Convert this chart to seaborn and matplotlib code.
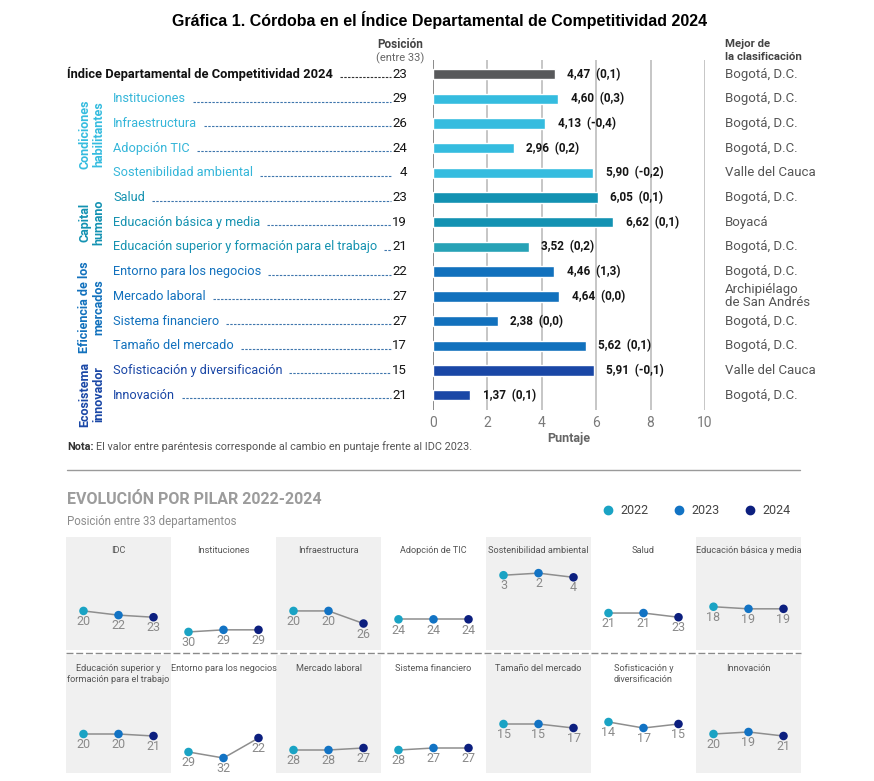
import numpy as np
import pandas as pd
import matplotlib
matplotlib.use("Agg")
import matplotlib.pyplot as plt
import matplotlib.transforms as mtransforms
from matplotlib.lines import Line2D
import seaborn as sns

# ---- data: top chart ----
pilares = ["Índice Departamental de Competitividad 2024", "Instituciones", "Infraestructura",
           "Adopción TIC", "Sostenibilidad ambiental", "Salud", "Educación básica y media",
           "Educación superior y formación para el trabajo", "Entorno para los negocios",
           "Mercado laboral", "Sistema financiero", "Tamaño del mercado",
           "Sofisticación y diversificación", "Innovación"]
grupos = ["IDC"] + ["Condiciones habilitantes"] * 4 + ["Capital humano"] * 3 + \
         ["Eficiencia de los mercados"] * 4 + ["Ecosistema innovador"] * 2
puntaje = [4.47, 4.60, 4.13, 2.96, 5.90, 6.05, 6.62, 3.52, 4.46, 4.64, 2.38, 5.62, 5.91, 1.37]
cambio = ["0,1", "0,3", "-0,4", "0,2", "-0,2", "0,1", "0,1", "0,2", "1,3", "0,0", "0,0", "0,1", "-0,1", "0,1"]
posicion = [23, 29, 26, 24, 4, 23, 19, 21, 22, 27, 27, 17, 15, 21]
mejor = ["Bogotá, D.C.", "Bogotá, D.C.", "Bogotá, D.C.", "Bogotá, D.C.", "Valle del Cauca",
         "Bogotá, D.C.", "Boyacá", "Bogotá, D.C.", "Bogotá, D.C.", "Archipiélago\nde San Andrés",
         "Bogotá, D.C.", "Bogotá, D.C.", "Valle del Cauca", "Bogotá, D.C."]

# ---- data: evolution panels ----
evo_titulos = ["IDC", "Instituciones", "Infraestructura", "Adopción de TIC", "Sostenibilidad ambiental",
               "Salud", "Educación básica y media", "Educación superior y\nformación para el trabajo",
               "Entorno para los negocios", "Mercado laboral", "Sistema financiero",
               "Tamaño del mercado", "Sofisticación y\ndiversificación", "Innovación"]
anios = ["2022", "2023", "2024"]
pos_2022 = [20, 30, 20, 24, 3, 21, 18, 20, 29, 28, 28, 15, 14, 20]
pos_2023 = [22, 29, 20, 24, 2, 21, 19, 20, 32, 28, 27, 15, 17, 19]
pos_2024 = [23, 29, 26, 24, 4, 23, 19, 21, 22, 27, 27, 17, 15, 21]

# colours
color_grupo = {"IDC": "#58595b", "Condiciones habilitantes": "#35bcdf", "Capital humano": "#1392b2",
               "Eficiencia de los mercados": "#1271bd", "Ecosistema innovador": "#1a47a6"}
texto_grupo = {"IDC": "#111111", "Condiciones habilitantes": "#35b6d9", "Capital humano": "#1592b0",
               "Eficiencia de los mercados": "#1271bd", "Ecosistema innovador": "#1a47a6"}
colores_barras = [color_grupo[g] for g in grupos]
colores_barras[7] = "#27a2b6"
colores_anio = {"2022": "#1aa3c4", "2023": "#1273c4", "2024": "#0c1f7f"}

sns.set_theme(style="white")
plt.rcParams["font.family"] = ["Liberation Sans Narrow", "Roboto", "DejaVu Sans"]

W, H = 874, 781
fig = plt.figure(figsize=(W / 100, H / 100), dpi=100)


def px_rect(x0, y0, x1, y1):
    return [x0 / W, 1 - y1 / H, (x1 - x0) / W, (y1 - y0) / H]


def fx(x):
    return x / W


def fy(y):
    return 1 - y / H


fig.text(fx(440), fy(20), "Gráfica 1. Córdoba en el Índice Departamental de Competitividad 2024",
         ha="center", va="center", fontsize=11.5, fontweight="bold", color="#000000",
         family=["Liberation Sans", "DejaVu Sans"])

# ---- bar chart ----
df = pd.DataFrame({"pilar": pilares, "puntaje": puntaje, "grupo": grupos})
ax = fig.add_axes(px_rect(433, 60, 705, 410))
sns.barplot(data=df, x="puntaje", y="pilar", hue="pilar", palette=colores_barras,
            legend=False, width=0.42, saturation=1, ax=ax)
ax.set_xlim(0, 10)
ax.set_ylim(13.6, -0.57)
for v in [2, 4, 6, 8, 10]:
    ax.axvline(v, color="#c6c6c6", lw=1.4, zorder=0)
ax.axvline(0, color="#8a8a8a", lw=1.4, zorder=0)
for s in ax.spines.values():
    s.set_visible(False)
ax.set_yticks([])
ax.set_ylabel("")
ax.set_xticks([0, 2, 4, 6, 8, 10])
ax.tick_params(axis="x", length=0, labelsize=10, labelcolor="#7a7a7a", pad=4)
ax.set_xlabel("Puntaje", fontsize=9, fontweight="bold", color="#666666", labelpad=2)

for i, (v, c) in enumerate(zip(puntaje, cambio)):
    ax.annotate(f"{v:.2f}".replace(".", ",") + f"  ({c})", (v, i), xytext=(9, 0),
                textcoords="offset points", va="center", ha="left", fontsize=8.5,
                fontweight="bold", color="#151515")

trans = mtransforms.blended_transform_factory(fig.transFigure, ax.transData)
etiquetas = []
for i, (p, g) in enumerate(zip(pilares, grupos)):
    if g == "IDC":
        t = fig.text(fx(67), i, p, transform=trans, ha="left", va="center", fontsize=9.3,
                     fontweight="bold", color="#111111")
    else:
        t = fig.text(fx(113), i, p, transform=trans, ha="left", va="center", fontsize=9.2,
                     color=texto_grupo[g])
    etiquetas.append(t)
    fig.text(fx(407), i, str(posicion[i]), transform=trans, ha="right", va="center",
             fontsize=9.5, color="#151515")
    fig.text(fx(725), i, mejor[i], transform=trans, ha="left", va="center", fontsize=9.5,
             color="#555555", linespacing=1.0)

fig.canvas.draw()
rend = fig.canvas.get_renderer()
for i, t in enumerate(etiquetas):
    x_end = t.get_window_extent(rend).x1
    col = "#333333" if grupos[i] == "IDC" else "#3f76ad"
    ax.plot([x_end / W + 7 / W, fx(391)], [i + 0.12, i + 0.12], transform=trans, color=col,
            lw=0.8, ls=(0, (2.2, 1.2)), clip_on=False)

# group labels (vertical)
for txt, g, yc in [("Condiciones\nhabilitantes", "Condiciones habilitantes", 134),
                   ("Capital\nhumano", "Capital humano", 222),
                   ("Eficiencia de los\nmercados", "Eficiencia de los mercados", 307),
                   ("Ecosistema\ninnovador", "Ecosistema innovador", 394)]:
    fig.text(fx(92), fy(yc), txt, rotation=90, ha="center", va="center", fontsize=9,
             fontweight="bold", color=color_grupo[g], multialignment="center", linespacing=1.15)

fig.text(fx(400), fy(45), "Posición", ha="center", va="center", fontsize=8.5,
         fontweight="bold", color="#444444")
fig.text(fx(400), fy(58), "(entre 33)", ha="center", va="center", fontsize=8, color="#666666")
fig.text(fx(725), fy(44), "Mejor de", ha="left", va="center", fontsize=8.2,
         fontweight="bold", color="#444444")
fig.text(fx(725), fy(57), "la clasificación", ha="left", va="center", fontsize=8.2,
         fontweight="bold", color="#444444")

nota = fig.text(fx(67), fy(447), "Nota:", ha="left", va="center", fontsize=7.8,
                fontweight="bold", color="#333333")
fig.canvas.draw()
xn = nota.get_window_extent(rend).x1
fig.text(xn / W + 3 / W, fy(447), "El valor entre paréntesis corresponde al cambio en puntaje frente al IDC 2023.",
         ha="left", va="center", fontsize=7.8, color="#555555")

# separator
fig.add_artist(Line2D([fx(67), fx(800)], [fy(470), fy(470)], color="#9a9a9a", lw=1.0))

# ---- evolution section ----
fig.text(fx(67), fy(500), "EVOLUCIÓN POR PILAR 2022-2024", ha="left", va="center",
         fontsize=11.5, fontweight="bold", color="#9c9c9c")
fig.text(fx(67), fy(521), "Posición entre 33 departamentos", ha="left", va="center",
         fontsize=8.3, color="#8c8c8c")

handles = [Line2D([], [], marker="o", ls="", color=colores_anio[a], markersize=6) for a in anios]
fig.legend(handles, anios, loc="center", bbox_to_anchor=(fx(696), fy(511)), ncol=3,
           frameon=False, fontsize=9, handletextpad=0.5, columnspacing=1.9, handlelength=1.0,
           labelcolor="#444444")

row_tops = [537, 655]
row_bots = [650, 773]
row_ylim = [(38.6, -15.2), (39.5, -19.5)]
for k in range(14):
    r, c = divmod(k, 7)
    axp = fig.add_axes(px_rect(66 + c * 105, row_tops[r], 66 + (c + 1) * 105, row_bots[r]))
    axp.set_facecolor("#f0f0f0" if c % 2 == 0 else "white")
    d = pd.DataFrame({"anio": anios, "x": [0, 1, 2],
                      "pos": [pos_2022[k], pos_2023[k], pos_2024[k]]})
    sns.lineplot(data=d, x="x", y="pos", color="#8e8e8e", lw=1.1, ax=axp, zorder=2)
    sns.scatterplot(data=d, x="x", y="pos", hue="anio", palette=colores_anio, s=38,
                    linewidth=0, legend=False, ax=axp, zorder=3)
    for xi, yi in zip(d["x"], d["pos"]):
        axp.annotate(str(yi), (xi, yi), xytext=(0, -3), textcoords="offset points",
                     ha="center", va="top", fontsize=9, color="#8a8a8a")
    axp.set_xlim(-0.5, 2.5)
    axp.set_ylim(*row_ylim[r])
    axp.set_xticks([])
    axp.set_yticks([])
    axp.set_xlabel("")
    axp.set_ylabel("")
    for s in axp.spines.values():
        s.set_visible(False)
    fig.text(fx(66 + c * 105 + 52.5), fy(row_tops[r] + 9), evo_titulos[k],
             ha="center", va="top", fontsize=6.6, color="#555555", linespacing=1.35)

fig.add_artist(Line2D([fx(66), fx(801)], [fy(653), fy(653)], color="#8a8a8a", lw=1.0,
                      ls=(0, (5, 2))))

fig.savefig("out.png", dpi=100, facecolor="white")
